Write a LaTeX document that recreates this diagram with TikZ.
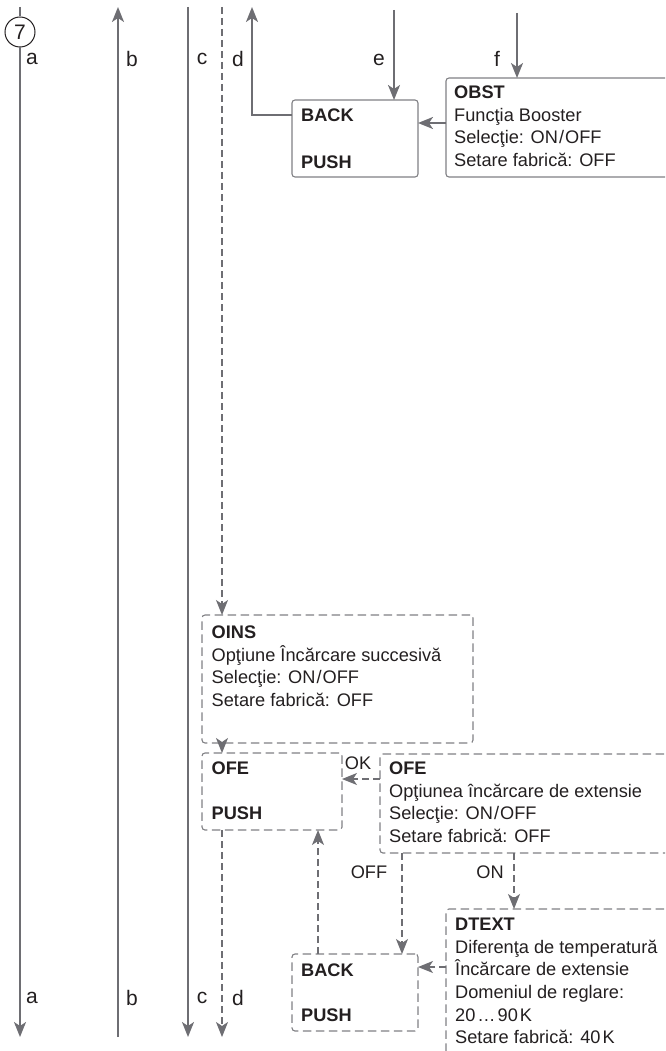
\documentclass[tikz,border=0pt]{standalone}
\usepackage{fontspec}
\setmainfont{Liberation Sans}
\usetikzlibrary{arrows.meta}
\definecolor{ln}{RGB}{110,110,115}
\definecolor{bx}{RGB}{128,128,132}
\definecolor{tx}{RGB}{35,31,32}
\begin{document}
\begin{tikzpicture}[x=1pt,y=-1pt,
  font=\fontsize{18.2}{22.6}\selectfont, text=tx,
  solidln/.style={draw=ln, line width=2pt},
  dashln/.style={draw=ln, line width=1.3pt, dash pattern=on 7pt off 4pt},
  arr/.style={-{Stealth[length=15pt,width=12pt,inset=4pt]}},
  sbox/.style={draw=bx, line width=1.1pt, rounded corners=3pt, inner sep=0pt, outer sep=0pt},
  dbox/.style={sbox, dash pattern=on 8.5pt off 4.5pt},
  txt/.style={anchor=north west, align=left, inner sep=0pt},
  lbl/.style={inner sep=0pt},
  biglbl/.style={inner sep=0pt, font=\fontsize{21}{24}\selectfont}]
\useasboundingbox (0,0) rectangle (665,1051);
\clip (0,0) rectangle (665,1051);

% end coordinates of vertical lines
\coordinate (aT) at (20,7);   \coordinate (aB) at (20,1037);
\coordinate (bT) at (118,7);  \coordinate (bB) at (118,1037);
\coordinate (cT) at (188,7);  \coordinate (cB) at (188,1037);
\coordinate (dT) at (222,7);  \coordinate (dB) at (222,1037);
\coordinate (upT) at (252,7);
\coordinate (eT) at (394,10);
\coordinate (fT) at (517,13);

% boxes
\node[sbox, minimum width=126pt, minimum height=77pt] (back1) at (355,138.5) {};
\node[sbox, minimum width=234pt, minimum height=99pt] (obst) at (563,127.5) {};
\node[dbox, minimum width=271pt, minimum height=128pt] (oins) at (337.5,679) {};
\node[dbox, minimum width=140pt, minimum height=77pt] (ofeL) at (272,791.5) {};
\node[dbox, minimum width=300pt, minimum height=99pt] (ofeR) at (530,803.5) {};
\node[dbox, minimum width=126pt, minimum height=77pt] (back2) at (355,992.5) {};
\node[dbox, minimum width=234pt, minimum height=161pt] (dtext) at (563,989.5) {};

% texts
\node[txt] (tback1) at (301,107.5) {\rule{0pt}{14pt}\textbf{BACK}\\[24pt]\textbf{PUSH}};
\node[txt] (tobst) at (454,84.5) {\rule{0pt}{14pt}\textbf{OBST}\\Funcţia Booster\\Selecţie: ON\kern1pt/\kern1pt OFF\\Setare fabrică: OFF};
\node[txt] (toins) at (211.5,624.5) {\rule{0pt}{14pt}\textbf{OINS}\\Opţiune Încărcare succesivă\\Selecţie: ON\kern1pt/\kern1pt OFF\\Setare fabrică: OFF};
\node[txt] (tofeL) at (211.5,760.5) {\rule{0pt}{14pt}\textbf{OFE}\\[22pt]\textbf{PUSH}};
\node[txt] (tofeR) at (389,760.5) {\rule{0pt}{14pt}\textbf{OFE}\\Opţiunea încărcare de extensie\\Selecţie: ON\kern1pt/\kern1pt OFF\\Setare fabrică: OFF};
\node[txt] (tback2) at (301,962.5) {\rule{0pt}{14pt}\textbf{BACK}\\[22pt]\textbf{PUSH}};
\node[txt] (tdtext) at (455,916.5) {\rule{0pt}{14pt}\textbf{DTEXT}\\Diferenţa de temperatură\\Încărcare de extensie\\Domeniul de reglare:\\20\kern2pt…\kern2pt90\kern2pt K\\Setare fabrică: 40\kern2pt K};

% circle 7
\node[draw=tx, line width=1pt, circle, minimum size=30pt, inner sep=0pt, font=\fontsize{21}{24}\selectfont] (c7) at (20,32) {7};

% labels
\node[biglbl] (la1) at (32,59) {a};
\node[biglbl] (lb1) at (132,59) {b};
\node[biglbl] (lc1) at (202,59) {c};
\node[biglbl] (ld1) at (238,59) {d};
\node[biglbl] (le1) at (379,60) {e};
\node[biglbl] (lf1) at (497,59) {f};
\node[biglbl] (la2) at (32,998) {a};
\node[biglbl] (lb2) at (132,998) {b};
\node[biglbl] (lc2) at (202,998) {c};
\node[biglbl] (ld2) at (238,998) {d};
\node[lbl] (lok) at (358,763) {OK};
\node[lbl] (loff) at (369,872) {OFF};
\node[lbl] (lon) at (490,872) {ON};

% helper coordinates
\coordinate (y115) at (0,115);
\coordinate (y123) at (0,123);
\coordinate (y779) at (0,779);
\coordinate (y967) at (0,967);
\coordinate (x222) at (222,0);
\coordinate (x318) at (318,0);
\coordinate (x402) at (402,0);
\coordinate (x514) at (514,0);

% solid lines
\draw[solidln] (aT) -- (c7.north);
\draw[solidln, arr] (c7.south) -- (aB);
\draw[solidln, arr] (bB) -- (bT);
\draw[solidln, arr] (cT) -- (cB);
\draw[solidln, arr] (back1.west |- y115) -| (upT);
\draw[solidln, arr] (eT) -- (eT |- back1.north);
\draw[solidln, arr] (fT) -- (fT |- obst.north);
\draw[solidln, arr] (obst.west |- y123) -- (back1.east |- y123);

% dashed lines
\draw[dashln, arr] (dT) -- (dT |- oins.north);
\draw[dashln, arr] (x222 |- oins.south) -- (x222 |- ofeL.north);
\draw[dashln, arr] (x222 |- ofeL.south) -- (dB);
\draw[dashln, arr] (ofeR.west |- y779) -- (ofeL.east |- y779);
\draw[dashln, arr] (x318 |- back2.north) -- (x318 |- ofeL.south);
\draw[dashln, arr] (x402 |- ofeR.south) -- (x402 |- back2.north);
\draw[dashln, arr] (x514 |- ofeR.south) -- (x514 |- dtext.north);
\draw[dashln, arr] (dtext.west |- y967) -- (back2.east |- y967);
\end{tikzpicture}
\end{document}
